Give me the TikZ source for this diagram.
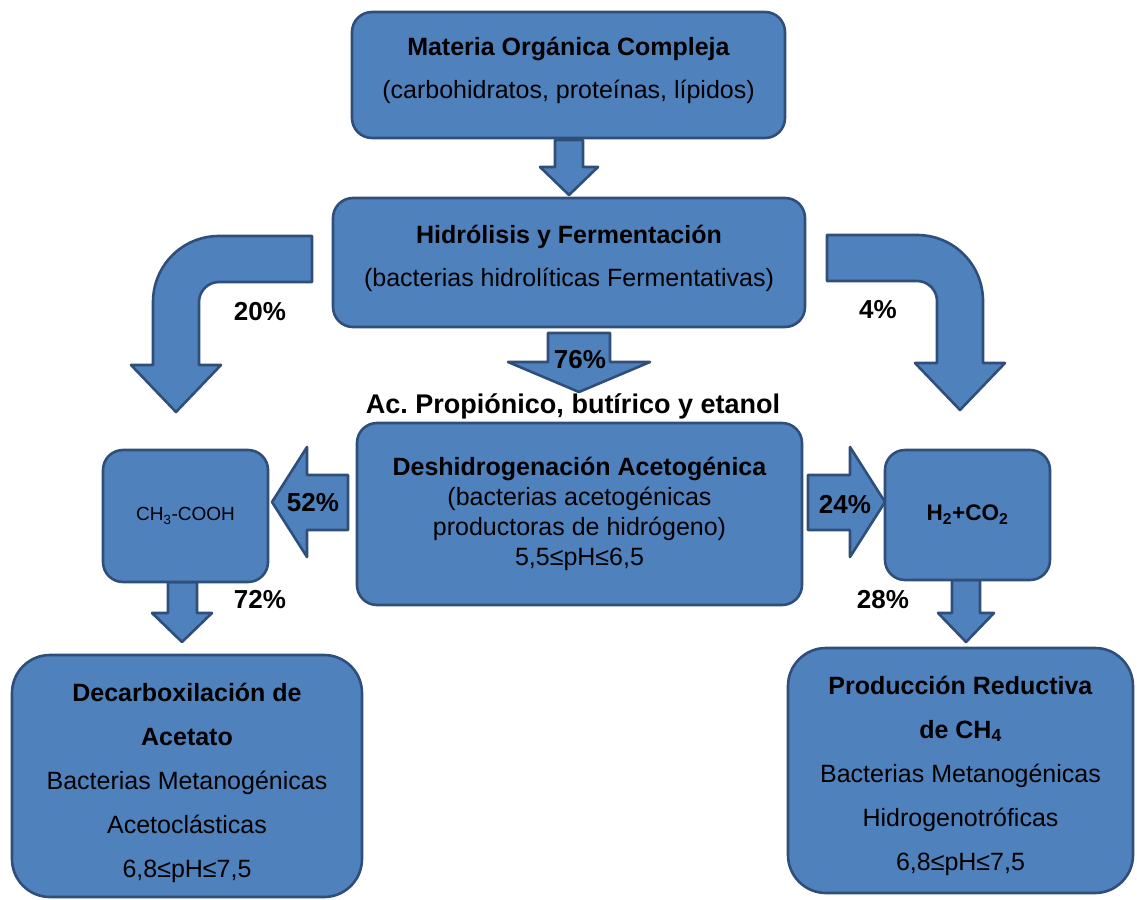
\documentclass[tikz,border=0pt]{standalone}
\usepackage{fontspec}
\setmainfont{Liberation Sans}
\definecolor{boxfill}{HTML}{4F81BD}
\definecolor{boxline}{HTML}{2F4F7A}
\tikzset{
  blk/.style={fill=boxfill, draw=boxline, line width=2.6pt, line join=round},
  box/.style={blk, rounded corners=20pt, align=center, inner sep=0pt},
  boxtext/.style={align=center, inner sep=0pt},
  pct/.style={font=\fontsize{26}{30}\selectfont\bfseries, inner sep=0pt},
}
\begin{document}
\begin{tikzpicture}[x=1pt,y=-1pt]
\useasboundingbox (0,0) rectangle (1137,899);
% block arrows
\draw[blk] (555,140) -- (583,140) -- (583,167) -- (598,167) -- (569,195) -- (540,167) -- (555,167) -- cycle;
\draw[blk] (548,333) -- (610,333) -- (610,362) -- (650,362) -- (579,392) -- (508,362) -- (548,362) -- cycle;
\draw[blk] (312,236) -- (219,236) .. controls (182.5,236) and (153,265.5) .. (153,302) -- (153,365) -- (131,365) -- (176,412) -- (221,365) -- (199,365) -- (199,302) .. controls (199,291) and (208,282) .. (219,282) -- (312,282) -- cycle;
\draw[blk] (827,235) -- (917,235) .. controls (953.5,235) and (983,264.5) .. (983,301) -- (983,363) -- (1005,363) -- (960,410) -- (915,363) -- (937,363) -- (937,301) .. controls (937,290) and (928,281) .. (917,281) -- (827,281) -- cycle;
\draw[blk] (348,475) -- (307,475) -- (307,447) -- (272,502) -- (307,557) -- (307,530) -- (348,530) -- cycle;
\draw[blk] (808,475) -- (850,475) -- (850,447) -- (885,502) -- (850,557) -- (850,530) -- (808,530) -- cycle;
\draw[blk] (168,582) -- (197,582) -- (197,613) -- (212,613) -- (182,642) -- (152,613) -- (168,613) -- cycle;
\draw[blk] (952,580) -- (980,580) -- (980,613) -- (994,613) -- (966,642) -- (938,613) -- (952,613) -- cycle;
% boxes
\node[box, minimum width=433pt, minimum height=126pt,
  label={[boxtext, font=\fontsize{25}{43}\selectfont, yshift=4.5pt]center:{\textbf{Materia Orgánica Compleja}\\(carbohidratos, proteínas, lípidos)}}] (mat) at (568.5,75) {};
\node[box, minimum width=472pt, minimum height=129pt,
  label={[boxtext, font=\fontsize{25}{43}\selectfont, yshift=4.5pt]center:{\textbf{Hidrólisis y Fermentación}\\(bacterias hidrolíticas Fermentativas)}}] (hid) at (569,262.5) {};
\node[box, minimum width=445pt, minimum height=182pt, font=\fontsize{25}{30}\selectfont] (des) at (579.5,514)
  {\textbf{Deshidrogenación Acetogénica}\\(bacterias acetogénicas\\productoras de hidrógeno)\\5,5≤pH≤6,5};
\node[box, minimum width=165pt, minimum height=132pt, font=\fontsize{19}{22}\selectfont] (ace) at (185.5,516)
  {CH\textsubscript{3}-COOH};
\node[box, minimum width=165pt, minimum height=130pt, font=\fontsize{22.5}{26}\selectfont\bfseries] (hco) at (967.5,515)
  {H\textsubscript{2}+CO\textsubscript{2}};
\node[box, rounded corners=38pt, minimum width=350pt, minimum height=242pt,
  label={[boxtext, font=\fontsize{25}{44}\selectfont, yshift=-7pt]center:{\textbf{Decarboxilación de}\\\textbf{Acetato}\\Bacterias Metanogénicas\\Acetoclásticas\\6,8≤pH≤7,5}}] (dec) at (187,776) {};
\node[box, rounded corners=38pt, minimum width=345pt, minimum height=245pt,
  label={[boxtext, font=\fontsize{25}{44}\selectfont, yshift=-5pt]center:{\textbf{Producción Reductiva}\\\textbf{de CH\textsubscript{4}}\\Bacterias Metanogénicas\\Hidrogenotróficas\\6,8≤pH≤7,5}}] (pro) at (960.5,770.5) {};
% labels
\node[pct] (p20) at (260,312) {20\%};
\node[pct] (p4) at (878,310) {4\%};
\node[pct] (p76) at (580,360) {76\%};
\node[pct, font=\fontsize{27}{30}\selectfont\bfseries] (acp) at (573,406) {Ac.\ Propiónico, butírico y etanol};
\node[pct] (p52) at (313,503) {52\%};
\node[pct] (p24) at (845,505) {24\%};
\node[pct] (p72) at (260,600) {72\%};
\node[pct] (p28) at (883,600) {28\%};
\end{tikzpicture}
\end{document}
